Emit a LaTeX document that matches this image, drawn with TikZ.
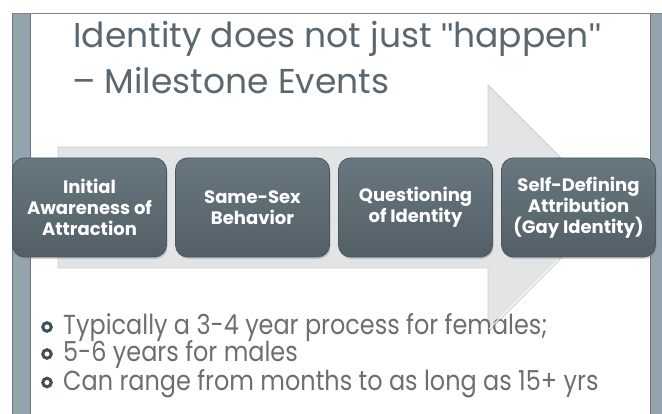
\documentclass[tikz,border=0pt]{standalone}
\usepackage{fontspec}
\setmainfont{Poppins}
\newfontfamily\bodyfont[FakeStretch=0.87]{Poppins}
\newfontfamily\qfont{Liberation Sans}
\usetikzlibrary{shadows}
\definecolor{titlec}{HTML}{5A6770}
\definecolor{bodyc}{HTML}{6E6F68}
\definecolor{boxtop}{HTML}{687780}
\definecolor{boxbot}{HTML}{525F66}
\definecolor{boxedge}{HTML}{4A575D}
\definecolor{arrowc}{HTML}{E3E4E6}
\definecolor{arrowedge}{HTML}{CDD0D3}
\definecolor{barc}{HTML}{93A4AE}
\definecolor{baredge}{HTML}{6F7478}
\definecolor{topline}{HTML}{85827A}
\definecolor{bulletc}{HTML}{3F4F58}
\begin{document}
\begin{tikzpicture}[x=1pt,y=-1pt,
  stepbox/.style={rectangle, rounded corners=12pt, minimum width=154pt, minimum height=99pt,
    top color=boxtop, bottom color=boxbot, draw=boxedge, line width=0.8pt, text=white,
    font=\bfseries\fontsize{18}{21}\selectfont, align=center, inner sep=2pt,
    drop shadow={opacity=0.35, shadow xshift=1pt, shadow yshift=-2pt}},
  bulletdot/.style={circle, draw=bulletc, line width=3pt, minimum size=8.5pt, inner sep=0pt},
  bullettext/.style={anchor=base west, text=bodyc, font=\bodyfont\fontsize{27.5}{28}\selectfont, inner sep=0pt},
  titletext/.style={anchor=base west, text=titlec, font=\fontsize{34.5}{40}\selectfont, inner sep=0pt}]
\useasboundingbox (0,0) rectangle (662,414);
\fill[white] (0,0) rectangle (662,414);
% frame
\fill[barc] (12,14) rectangle (30,414);
\draw[baredge, line width=1pt] (12,14) -- (12,414) (30,14) -- (30,414);
\fill[barc] (650,14) rectangle (662,414);
\draw[baredge, line width=1pt] (650,14) -- (650,414);
\draw[topline, line width=1.6pt] (12,13.5) -- (662,13.5);
% arrow
\path[fill=arrowc, draw=arrowedge, line width=0.8pt]
  (58,147) -- (488,147) -- (488,85) -- (611,208) -- (488,332) -- (488,268) -- (58,268) -- cycle;
% title
\node[titletext] (t1) at (73,48) {Identity does not just {\qfont"}happen{\qfont"}};
\node[titletext] (t2) at (72,94) {– Milestone Events};
% boxes
\node[stepbox] (b1) at (89.5,207.5) {Initial\\Awareness of\\Attraction};
\node[stepbox] (b2) at (252.5,207.5) {Same-Sex\\Behavior};
\node[stepbox] (b3) at (415.5,207.5) {Questioning\\of Identity};
\node[stepbox] (b4) at (578.5,207.5) {Self-Defining\\Attribution\\(Gay Identity)};
% bullets
\node[bulletdot] (d1) at (47,327) {};
\node[bulletdot] (d2) at (47,354) {};
\node[bulletdot] (d3) at (47,382.5) {};
\node[bullettext] (l1) at (63,335) {Typically a 3-4 year process for females;};
\node[bullettext] (l2) at (63,362) {5-6 years for males};
\node[bullettext] (l3) at (63,390.5) {Can range from months to as long as 15+ yrs};
\draw[white, line width=1pt] (558,260) -- (489,329);
\end{tikzpicture}
\end{document}
